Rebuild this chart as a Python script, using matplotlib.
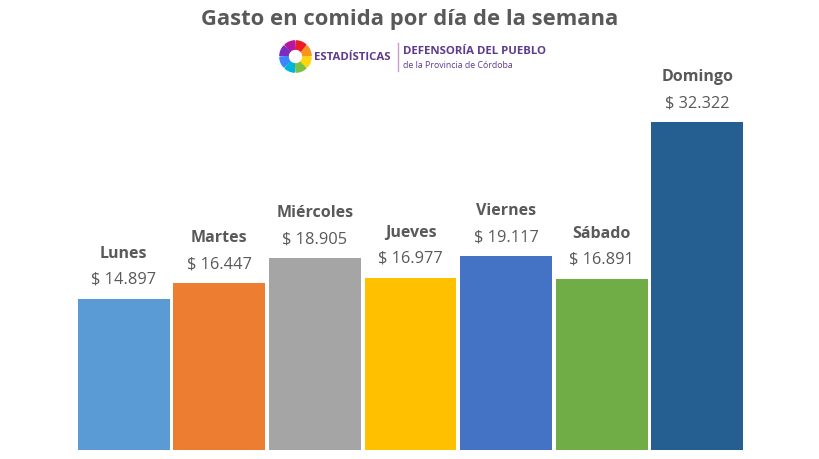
import matplotlib.pyplot as plt
from matplotlib.patches import Wedge
import numpy as np

# datos
dias = ["Lunes", "Martes", "Miércoles", "Jueves", "Viernes", "Sábado", "Domingo"]
gasto = [14897, 16447, 18905, 16977, 19117, 16891, 32322]
etiquetas = ["$ 14.897", "$ 16.447", "$ 18.905", "$ 16.977", "$ 19.117", "$ 16.891", "$ 32.322"]
colores = ["#5B9BD5", "#ED7D31", "#A5A5A5", "#FFC000", "#4472C4", "#70AD47", "#255E91"]

plt.rcParams['font.family'] = ['Open Sans', 'DejaVu Sans']
gris = "#595959"

fig = plt.figure(figsize=(8.19, 4.60), dpi=100)
ax = fig.add_axes([76/819, 9/460, 669/819, 440/460])
x = np.arange(len(dias))
ax.bar(x, gasto, width=0.96, color=colores)
ax.set_xlim(-0.5, 6.5)
ax.set_ylim(0, 43400)
ax.axis('off')

for xi, v, d, e in zip(x, gasto, dias, etiquetas):
    ax.annotate(e, (xi, v), xytext=(0, 12), textcoords='offset pixels',
                ha='center', va='bottom', fontsize=11.8, color=gris)
    ax.annotate(d, (xi, v), xytext=(0, 38), textcoords='offset pixels',
                ha='center', va='bottom', fontsize=11.5, color=gris, fontweight='bold')

fig.text(0.5, 1 - 20/460, "Gasto en comida por día de la semana", ha='center', va='center',
         fontsize=15.8, fontweight='bold', color=gris)

# logo aproximado
lax = fig.add_axes([279/819, 1 - 74/460, 33/819, 33/460])
lax.set_xlim(-1, 1)
lax.set_ylim(-1, 1)
lax.set_aspect('equal')
lax.axis('off')
cols_logo = ["#F7941D", "#EC1C24", "#B5179E", "#7B2CBF", "#3A86FF", "#00B4D8", "#7CC142", "#FFD60A"]
for i, c in enumerate(cols_logo):
    a = i * 45
    lax.add_patch(Wedge((0, 0), 0.95, a + 3, a + 42, width=0.5, color=c))

fig.text(314/819, 1 - 57/460, "ESTADÍSTICAS", ha='left', va='center', fontsize=8.2,
         fontweight='bold', color="#5E3A8C")
fig.add_artist(plt.Line2D([398/819, 398/819], [1 - 72/460, 1 - 44/460], color="#C9A0C9", lw=1))
fig.text(403/819, 1 - 52/460, "DEFENSORÍA DEL PUEBLO", ha='left', va='center', fontsize=8.2,
         fontweight='bold', color="#5E3A8C")
fig.text(403/819, 1 - 65/460, "de la Provincia de Córdoba", ha='left', va='center', fontsize=6.3,
         color="#5E3A8C")

fig.savefig("out.png", dpi=100)
